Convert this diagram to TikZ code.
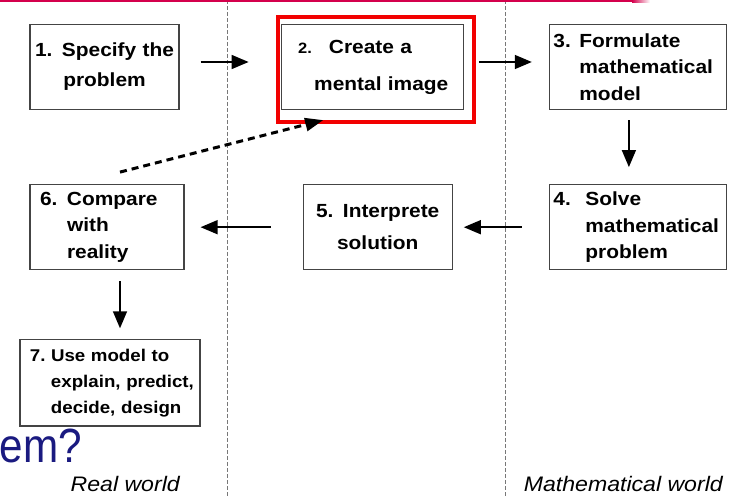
\documentclass[tikz,border=0pt]{standalone}
\usepackage{fontspec}
\setmainfont{Liberation Sans}[FakeStretch=1.1]
\newfontfamily\titlefont{Liberation Sans}[FakeStretch=0.88]
\usepackage{tikz}
\usetikzlibrary{arrows.meta,positioning}
\definecolor{crimson}{HTML}{D4004C}
\definecolor{hilite}{HTML}{F20000}
\definecolor{boxline}{HTML}{444444}
\definecolor{divgray}{HTML}{777777}
\definecolor{navy}{HTML}{1A1A80}
\tikzset{
  box/.style={
    draw=boxline, line width=1.2pt, minimum height=85pt,
    inner xsep=4pt, inner ysep=0pt, align=left,
    font=\fontsize{19}{26.5}\selectfont\bfseries,
  },
  arrow/.style={-{Triangle[length=17pt,width=14pt]}, line width=1.5pt},
  dasharrow/.style={-{Triangle[length=18pt,width=13pt]}, line width=3pt, dash pattern=on 7pt off 5pt},
  divider/.style={divgray, line width=1pt, dash pattern=on 4pt off 2pt},
  caption/.style={font=\fontsize{21}{24}\selectfont\itshape, inner sep=0pt, anchor=base east},
}

\begin{document}
\begin{tikzpicture}[x=1pt, y=-1pt]

  \useasboundingbox (0,0) rectangle (729,497);

  \draw[divider] (227.5,0) -- (227.5,497);
  \draw[divider] (505,0) -- (505,497);
  \fill[crimson] (0,0) rectangle (632,2.5);
  \shade[left color=crimson, right color=white] (632,0) rectangle (650,2.5);

  \node[box, minimum width=149pt, text width=141pt, align=center,
        font=\fontsize{19}{30}\selectfont\bfseries] (specify) at (104.5,67)
    {1. Specify the\\problem};

  \node[box, minimum width=182pt, text width=174pt,
        font=\fontsize{19}{37}\selectfont\bfseries,
        right=101pt of specify] (mental)
    {\hspace*{13pt}{\fontsize{15}{15}\selectfont 2.}\hspace*{17pt}Create a\\\hspace*{29pt}mental image};

  \node[box, minimum width=177pt, text width=169pt,
        right=85pt of mental] (formulate)
    {\makebox[26pt][l]{3.}Formulate\\\hspace*{26pt}mathematical\\\hspace*{26pt}model};

  \node[box, minimum width=177pt, text width=169pt,
        below=74pt of formulate] (solve)
    {\makebox[32pt][l]{4.}Solve\\\hspace*{32pt}mathematical\\\hspace*{32pt}problem};

  \node[box, minimum width=149pt, text width=141pt, align=center,
        font=\fontsize{19}{32}\selectfont\bfseries,
        left=96pt of solve] (interprete)
    {5. Interprete\\solution};

  \node[box, minimum width=154pt, text width=146pt,
        left=118pt of interprete] (compare)
    {\hspace*{6pt}\makebox[27pt][l]{6.}Compare\\\hspace*{33pt}with\\\hspace*{33pt}reality};

  \node[box, minimum width=180pt, minimum height=86pt, text width=176pt, inner xsep=2pt,
        font=\fontsize{17}{26}\selectfont\bfseries,
        below=69pt of compare, xshift=3pt] (usemodel)
    {\hspace*{8pt}\makebox[21pt][l]{7.}Use model to\\\hspace*{29pt}explain, predict,\\\hspace*{29pt}decide, design};

  \draw[hilite, line width=4pt] ([shift={(-3pt,7pt)}]mental.north west)
    rectangle ([shift={(10pt,-11.5pt)}]mental.south east);

  \node[caption] (realworld) at (180,491) {Real world};
  \node[caption] (mathworld) at (723,491) {Mathematical world};
  \node[font=\titlefont\fontsize{48}{50}\selectfont, text=navy,
        anchor=base east, inner sep=0pt] (title) at (82,462) {em?};

  \draw[arrow, shorten <=21pt, shorten >=32pt] ([yshift=5pt]specify.east) -- ([yshift=5pt]mental.west);
  \draw[arrow, shorten <=15pt, shorten >=17pt] ([yshift=5pt]mental.east) -- ([yshift=5pt]formulate.west);
  \draw[arrow, shorten <=10pt, shorten >=17pt] ([xshift=-9pt]formulate.south) -- ([xshift=-9pt]solve.north);
  \draw[arrow, shorten <=27pt, shorten >=11pt] (solve.west) -- (interprete.east);
  \draw[arrow, shorten <=32pt, shorten >=16pt] (interprete.west) -- (compare.east);
  \draw[arrow, shorten <=11pt, shorten >=11pt] ([xshift=13pt]compare.south) -- ([xshift=10pt]usemodel.north);
  \draw[dasharrow] ([shift={(13pt,12pt)}]compare.north) -- ([shift={(-49pt,-10pt)}]mental.south);

\end{tikzpicture}
\end{document}
